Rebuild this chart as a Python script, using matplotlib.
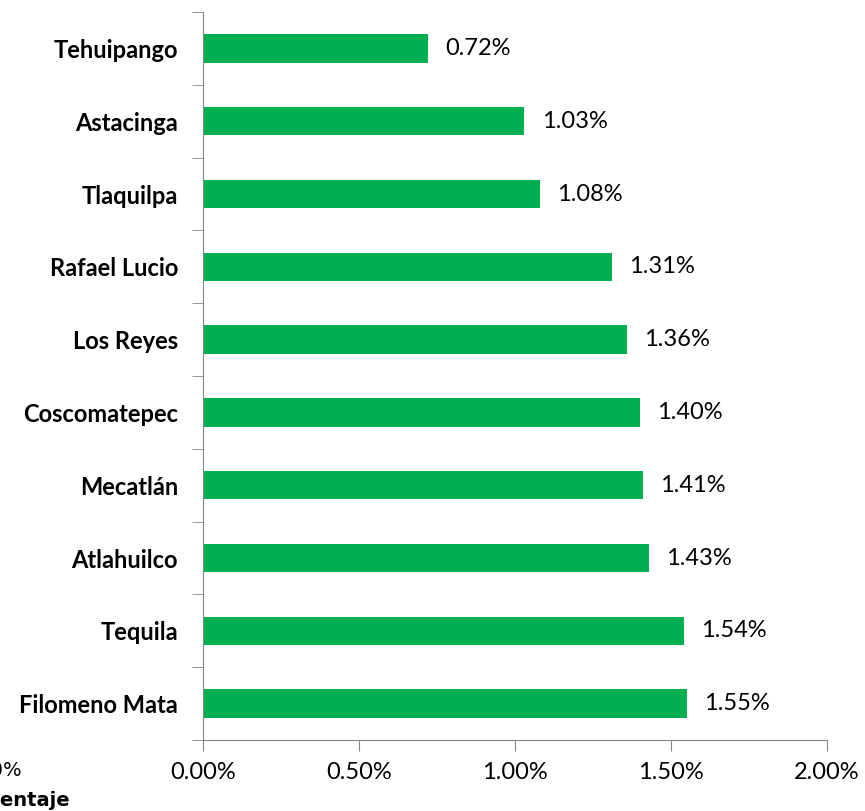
import numpy as np
import matplotlib.pyplot as plt
from matplotlib.ticker import FixedLocator, NullFormatter

plt.rcParams["font.family"] = ["Lato", "DejaVu Sans"]

municipios = ["Tehuipango", "Astacinga", "Tlaquilpa", "Rafael Lucio", "Los Reyes",
              "Coscomatepec", "Mecatlán", "Atlahuilco", "Tequila", "Filomeno Mata"]
porcentajes = [0.72, 1.03, 1.08, 1.31, 1.36, 1.40, 1.41, 1.43, 1.54, 1.55]
x_ticks = [0.0, 0.5, 1.0, 1.5, 2.0]

green = "#00b050"
axis_gray = "#868686"

fig = plt.figure(figsize=(8.65, 8.11), dpi=100)
ax = fig.add_axes([0.2347, 0.0875, 0.7214, 0.8977])

y = np.arange(len(municipios))
ax.barh(y, porcentajes, height=0.39, color=green)

for yi, v in zip(y, porcentajes):
    ax.text(v + 0.055, yi, f"{v:.2f}%", va="center", ha="left", fontsize=17)

ax.set_ylim(len(municipios) - 0.5, -0.5)
ax.set_xlim(0, 2.0)

ax.set_xticks(x_ticks)
ax.set_xticklabels([f"{t:.2f}%" for t in x_ticks], fontsize=17)

# category labels without ticks, ticks at boundaries
ax.set_yticks(y)
ax.set_yticklabels(municipios, fontsize=17, fontweight="bold")
ax.tick_params(axis="y", which="major", length=0, pad=18)
ax.yaxis.set_minor_locator(FixedLocator(np.arange(-0.5, len(municipios), 1.0)))
ax.yaxis.set_minor_formatter(NullFormatter())
ax.tick_params(axis="y", which="minor", length=8, color=axis_gray)
ax.tick_params(axis="x", length=8, color=axis_gray, pad=8)

for s in ["top", "right"]:
    ax.spines[s].set_visible(False)
for s in ["left", "bottom"]:
    ax.spines[s].set_color(axis_gray)

# leftover text clipped at the left edge (as in the source image)
fig.text(22 / 865, 1 - 771 / 811, "0.00%", ha="right", va="center",
         fontsize=14, family="DejaVu Sans")
fig.text(70 / 865, 1 - 800 / 811, "Porcentaje", ha="right", va="center",
         fontsize=14, family="DejaVu Sans", fontweight="bold")

fig.savefig("out.png", dpi=100)
